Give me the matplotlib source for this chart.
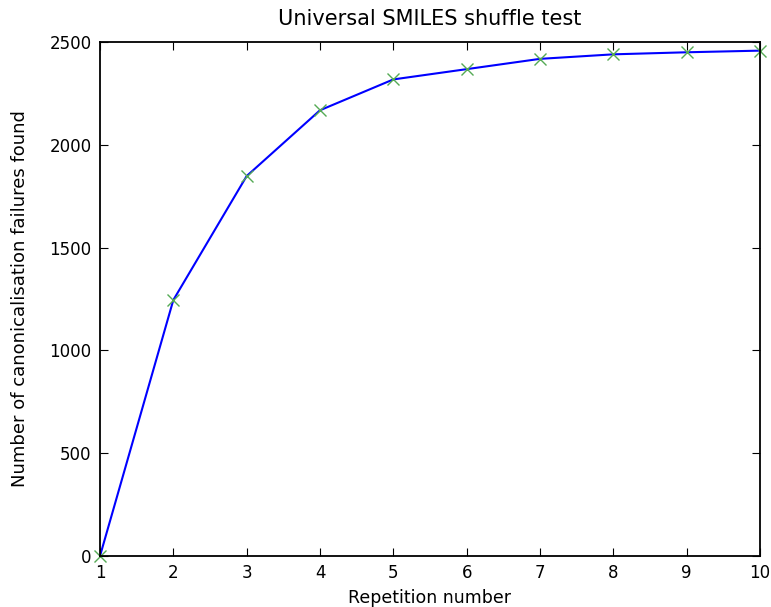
import matplotlib
matplotlib.use("Agg")
import matplotlib.pyplot as plt

repetitions = [1, 2, 3, 4, 5, 6, 7, 8, 9, 10]
failures = [0, 1245, 1848, 2168, 2318, 2368, 2418, 2440, 2450, 2458]

plt.rcParams['font.family'] = ['DejaVu Sans']
fig = plt.figure(figsize=(7.71, 6.07), dpi=100)
ax = fig.add_axes([100/771, 1 - 556/607, 660/771, 514/607])
ax.plot(repetitions, failures, '-', color='#0000ff', lw=1.5)
ax.plot(repetitions, failures, 'x', color='#55aa55', ms=8, mew=1.0, clip_on=False)
ax.set_xlim(1, 10)
ax.set_ylim(0, 2500)
ax.set_xticks(range(1, 11))
ax.set_yticks([0, 500, 1000, 1500, 2000, 2500])
ax.tick_params(direction='in', top=True, right=True, length=6, labelsize=12, pad=6)
for s in ax.spines.values():
    s.set_linewidth(1.3)
ax.set_title('Universal SMILES shuffle test', fontsize=15, pad=12)
ax.set_xlabel('Repetition number', fontsize=12.5)
ax.set_ylabel('Number of canonicalisation failures found', fontsize=13)
ax.yaxis.set_label_coords(-0.107, 0.5)
ax.xaxis.set_label_coords(0.5, -0.064)
fig.savefig('out.png', dpi=100)
